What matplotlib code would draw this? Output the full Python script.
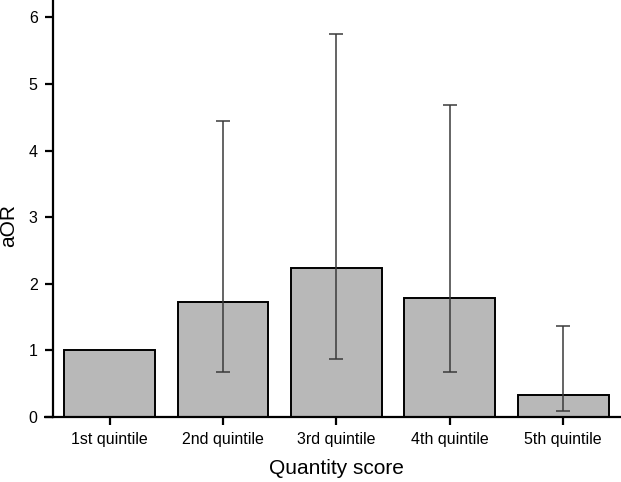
import matplotlib
matplotlib.use("Agg")
import matplotlib.pyplot as plt
import numpy as np

# data
categories = ["1st quintile", "2nd quintile", "3rd quintile", "4th quintile", "5th quintile"]
aor = [1.0, 1.73, 2.24, 1.78, 0.335]
ci_low = [np.nan, 0.67, 0.87, 0.67, 0.095]
ci_high = [np.nan, 4.45, 5.75, 4.69, 1.36]

plt.rcParams['font.family'] = ['Liberation Sans', 'DejaVu Sans']

fig = plt.figure(figsize=(6.21, 4.82), dpi=100)
ax = fig.add_axes([0.0853, 0.135, 0.913, 0.865])

x = np.arange(len(categories))
ax.bar(x, aor, width=0.8, color='#b8b8b8', edgecolor='black', linewidth=1.4, zorder=2)

# error bars only where a CI exists
lo = np.array(aor) - np.array(ci_low)
hi = np.array(ci_high) - np.array(aor)
mask = ~np.isnan(lo)
ax.errorbar(x[mask], np.array(aor)[mask], yerr=[lo[mask], hi[mask]], fmt='none',
            ecolor='#3a3a3a', elinewidth=1.1, capsize=5, capthick=1.1, zorder=3)

ax.set_xlim(-0.5, 4.5)
ax.set_ylim(0, 6.26)
ax.set_yticks(range(0, 7))
ax.set_xticks(x)
ax.set_xticklabels(categories)

for s in ['top', 'right']:
    ax.spines[s].set_visible(False)
for s in ['left', 'bottom']:
    ax.spines[s].set_linewidth(1.6)
# bottom axis line sticks out a little to the left
ax.plot([-0.58, -0.5], [0, 0], color='black', linewidth=1.6, clip_on=False,
        solid_capstyle='butt')

ax.tick_params(axis='both', direction='out', length=6, width=1.6, labelsize=11.5,
               pad=5)
ax.set_xlabel('Quantity score', fontsize=15)
ax.set_ylabel('aOR', fontsize=15)
ax.xaxis.set_label_coords(0.5, -0.1)
ax.yaxis.set_label_coords(-0.062, 0.46)

fig.savefig('out.png', dpi=100)
